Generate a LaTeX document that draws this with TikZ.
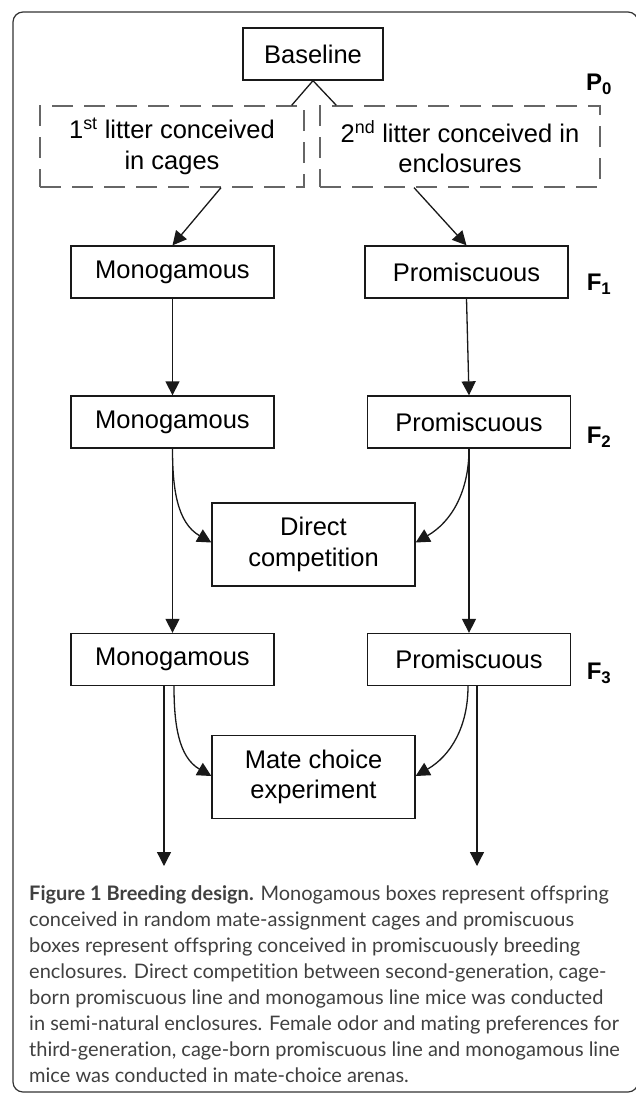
\documentclass[tikz,border=0pt]{standalone}
\usepackage{fontspec}
\setmainfont{Liberation Sans}
\newfontfamily\captionfont[Ligatures=NoCommon]{Lato}
\usetikzlibrary{arrows.meta}

\begin{document}
\begin{tikzpicture}[x=1pt,y=1pt]

\useasboundingbox (0pt,0pt) rectangle (636pt,-1095pt);

\tikzset{BoxStyle/.style={draw=black!90,line width=1.3pt,minimum width=203pt,minimum height=52pt,inner sep=0pt,align=center,font=\fontsize{25.5}{30.5}\selectfont}}
\tikzset{BigBoxStyle/.style={BoxStyle,minimum height=83pt}}
\tikzset{LitterStyle/.style={BoxStyle,draw=black!60,dash pattern=on 21pt off 11pt,minimum height=81pt}}
\tikzset{LabelStyle/.style={font=\bfseries\fontsize{24}{28}\selectfont,inner sep=0pt}}
\tikzset{LineStyle/.style={draw=black!90,line width=1.3pt}}
\tikzset{EdgeStyle/.style={LineStyle,-{Triangle[length=14pt,width=14pt]}}}
\tikzset{CaptionStyle/.style={font=\captionfont\fontsize{20}{26}\selectfont,text=black!75,align=left,inner sep=0pt}}

\draw[rounded corners=10pt,line width=1.2pt,black!80] (13pt,-12pt) rectangle (638pt,-1092pt);

\node[BoxStyle,minimum width=140pt] (base) at (313pt,-54pt) {Baseline};
\node[LitterStyle,minimum width=264pt] (lit1) at (172pt,-146.5pt) {1\textsuperscript{st} litter conceived\\in cages};
\node[LitterStyle,minimum width=280pt] (lit2) at (460pt,-146.5pt) {2\textsuperscript{nd} litter conceived in\\enclosures};

\node[BoxStyle] (mono1) at (172.5pt,-272pt) {Monogamous};
\node[BoxStyle] (prom1) at (466.5pt,-272pt) {Promiscuous};
\node[BoxStyle] (mono2) at (172.5pt,-422pt) {Monogamous};
\node[BoxStyle] (prom2) at (469pt,-422pt) {Promiscuous};
\node[BigBoxStyle] (comp) at (313.5pt,-544.5pt) {Direct\\competition};
\node[BoxStyle] (mono3) at (172.5pt,-659.5pt) {Monogamous};
\node[BoxStyle] (prom3) at (469pt,-659.5pt) {Promiscuous};
\node[BigBoxStyle] (choice) at (313.5pt,-777pt) {Mate choice\\experiment};

\node[LabelStyle] (p0) at (599pt,-84pt) {P\textsubscript{0}};
\node[LabelStyle] (f1) at (599pt,-284pt) {F\textsubscript{1}};
\node[LabelStyle] (f2) at (599pt,-437pt) {F\textsubscript{2}};
\node[LabelStyle] (f3) at (599pt,-673pt) {F\textsubscript{3}};

\coordinate (endl) at (164pt,-866pt);
\coordinate (endr) at (477pt,-866pt);

\draw[LineStyle] ([xshift=-13pt]lit1.north east) -- (base.south) -- ([xshift=17pt]lit2.north west);

\draw[EdgeStyle] ([xshift=49pt]lit1.south) -- (mono1.north);
\draw[EdgeStyle] ([xshift=-46pt]lit2.south) -- (prom1.north);
\draw[EdgeStyle] (mono1.south) -- (mono2.north);
\draw[EdgeStyle] (prom1.south) -- (prom2.north);
\draw[EdgeStyle] (mono2.south) -- (mono3.north);
\draw[EdgeStyle] (prom2.south) -- (prom3.north);
\draw[EdgeStyle] (mono2.south) to[out=-90,in=150] ([yshift=2pt]comp.west);
\draw[EdgeStyle] (prom2.south) to[out=-90,in=30] ([yshift=2pt]comp.east);
\draw[EdgeStyle] ([xshift=-8.5pt]mono3.south) -- (endl);
\draw[EdgeStyle] ([xshift=8pt]prom3.south) -- (endr);
\draw[EdgeStyle] ([xshift=1.5pt]mono3.south) to[out=-90,in=150] ([yshift=1pt]choice.west);
\draw[EdgeStyle] ([xshift=-1pt]prom3.south) to[out=-90,in=30] ([yshift=1pt]choice.east);

\node[CaptionStyle,anchor=north west] (caption) at (29pt,-885pt) {\textbf{Figure 1 Breeding design.} Monogamous boxes represent offspring\\
conceived in random mate-assignment cages and promiscuous\\
boxes represent offspring conceived in promiscuously breeding\\
enclosures. Direct competition between second-generation, cage-\\
born promiscuous line and monogamous line mice was conducted\\
in semi-natural enclosures. Female odor and mating preferences for\\
third-generation, cage-born promiscuous line and monogamous line\\
mice was conducted in mate-choice arenas.};

\end{tikzpicture}
\end{document}
